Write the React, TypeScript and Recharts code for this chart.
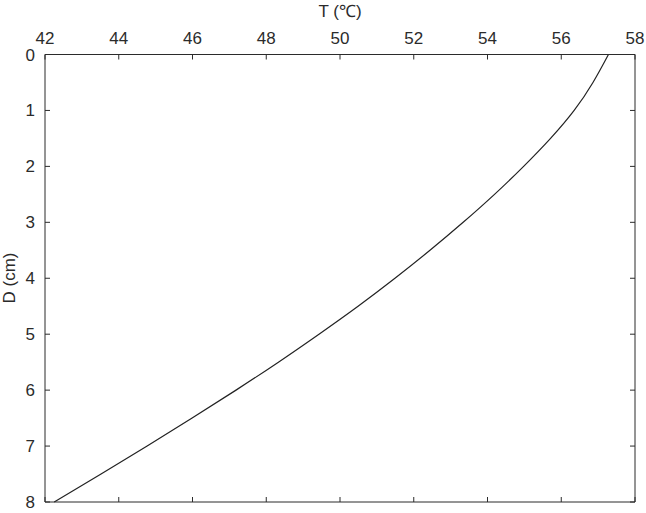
import { Label, Line, LineChart, XAxis, YAxis } from "recharts";

// depth (cm) and temperature (℃)
const depth = [0, 0.5, 1, 1.5, 2, 2.5, 3, 3.5, 4, 4.5, 5, 5.5, 6, 6.5, 7, 7.5, 8];
const temperature = [
  57.28, 56.86, 56.35, 55.71, 54.98, 54.19, 53.34, 52.44, 51.49, 50.49, 49.43, 48.33, 47.18,
  45.99, 44.77, 43.52, 42.25,
];
const tTicks = [42, 44, 46, 48, 50, 52, 54, 56, 58];
const dTicks = [0, 1, 2, 3, 4, 5, 6, 7, 8];

const data = depth.map((d, i) => ({ D: d, T: temperature[i] }));

const axisColor = "#2b2b2b";
const font = "'Liberation Sans', Arial, sans-serif";
const tickStyle = { fontSize: 17, fill: "#2b2b2b", fontFamily: font };
const noLabel = () => <g />;

export default function App() {
  return (
    <div style={{ position: "absolute", left: 0, top: 0, background: "#fff" }}>
      <LineChart
        width={646}
        height={513}
        data={data}
        layout="vertical"
        margin={{ top: 0, left: 0, right: 10, bottom: 10 }}
      >
        <XAxis
          type="number"
          dataKey="T"
          orientation="top"
          domain={[42, 58]}
          ticks={tTicks}
          height={54.5}
          tickSize={-5}
          tickMargin={16}
          stroke={axisColor}
          tick={tickStyle}
          allowDataOverflow
        >
          <Label
            value="T (℃)"
            position="insideTop"
            offset={5}
            style={{ fontSize: 17, fill: "#2b2b2b", fontFamily: font }}
          />
        </XAxis>
        <XAxis
          xAxisId="b"
          type="number"
          dataKey="T"
          orientation="bottom"
          domain={[42, 58]}
          ticks={tTicks}
          height={1}
          tickSize={-5}
          stroke={axisColor}
          tick={noLabel}
          allowDataOverflow
        />
        <YAxis
          type="number"
          dataKey="D"
          domain={[0, 8]}
          ticks={dTicks}
          width={45}
          tickSize={-5}
          tickMargin={15}
          stroke={axisColor}
          tick={tickStyle}
          label={{
            content: () => (
              <text
                x={0}
                y={0}
                transform="translate(15 278) rotate(-90)"
                textAnchor="middle"
                fontSize={17}
                fill="#2b2b2b"
                fontFamily={font}
              >
                D (cm)
              </text>
            ),
          }}
        />
        <YAxis
          yAxisId="r"
          type="number"
          dataKey="D"
          orientation="right"
          domain={[0, 8]}
          ticks={dTicks}
          width={1}
          tickSize={-5}
          stroke={axisColor}
          tick={noLabel}
        />
        <Line
          type="natural"
          dataKey="T"
          stroke="#222"
          strokeWidth={1.2}
          dot={false}
          isAnimationActive={false}
        />
        <Line
          xAxisId="b"
          yAxisId="r"
          dataKey="T"
          stroke="none"
          dot={false}
          legendType="none"
          isAnimationActive={false}
        />
      </LineChart>
    </div>
  );
}
